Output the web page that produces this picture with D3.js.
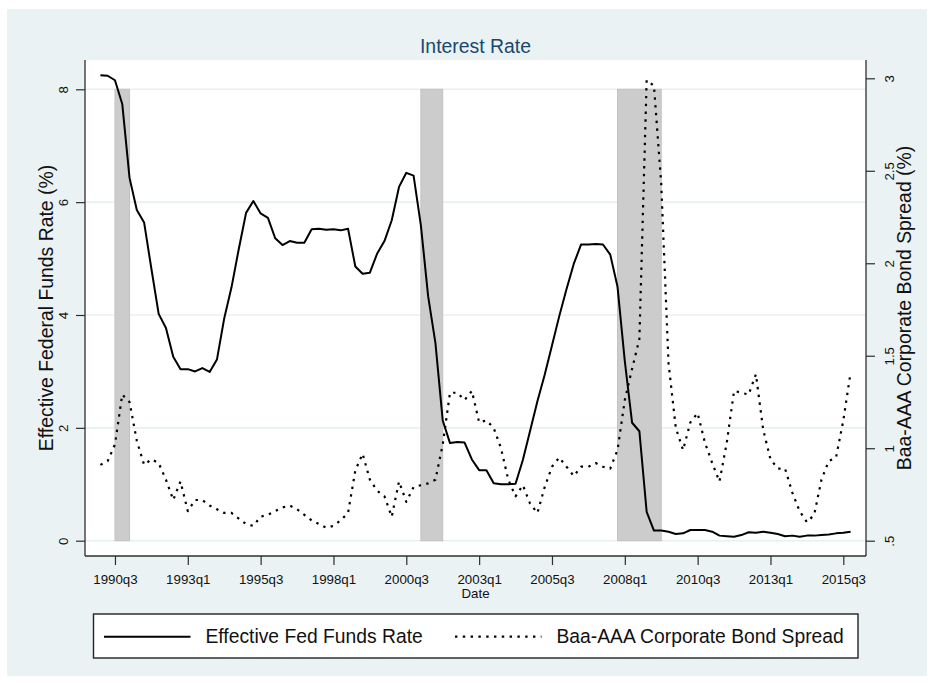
<!DOCTYPE html>
<html>
<head>
<meta charset="utf-8">
<script src="https://cdn.jsdelivr.net/npm/d3@7"></script>
<style>
  html, body { margin: 0; padding: 0; background: #ffffff; }
  svg { display: block; }
  text { font-family: "Liberation Sans", Arial, Helvetica, sans-serif; }
</style>
</head>
<body>
<svg id="chart" width="932" height="683"></svg>
<script>
// ---- data: quarterly observations, 1990q1 .. 2015q4 ----
const startYear = 1990;

// Effective federal funds rate (%), quarterly average
const fedFunds = [
  8.25, 8.24, 8.16, 7.74,   6.43, 5.86, 5.64, 4.82,   4.02, 3.77, 3.26, 3.04,
  3.04, 3.00, 3.06, 2.99,   3.21, 3.94, 4.49, 5.17,   5.81, 6.02, 5.80, 5.72,
  5.36, 5.24, 5.31, 5.28,   5.28, 5.52, 5.53, 5.51,   5.52, 5.50, 5.53, 4.86,
  4.73, 4.75, 5.09, 5.31,   5.68, 6.27, 6.52, 6.47,   5.59, 4.33, 3.50, 2.13,
  1.73, 1.75, 1.74, 1.44,   1.25, 1.25, 1.02, 1.00,   1.00, 1.01, 1.43, 1.95,
  2.47, 2.94, 3.46, 3.98,   4.46, 4.91, 5.25, 5.25,   5.26, 5.25, 5.07, 4.50,
  3.18, 2.09, 1.94, 0.51,   0.18, 0.18, 0.16, 0.12,   0.13, 0.19, 0.19, 0.19,
  0.16, 0.09, 0.08, 0.07,   0.10, 0.15, 0.14, 0.16,   0.14, 0.12, 0.08, 0.09,
  0.07, 0.09, 0.09, 0.10,   0.11, 0.13, 0.14, 0.16
];

// Moody's Baa minus Aaa corporate bond yield (%), quarterly average
const baaAaaSpread = [
  0.91, 0.93, 1.02, 1.29,   1.25, 1.04, 0.91, 0.94,   0.92, 0.83, 0.72, 0.82,
  0.66, 0.72, 0.72, 0.69,   0.67, 0.65, 0.65, 0.62,   0.59, 0.58, 0.63, 0.64,
  0.66, 0.68, 0.69, 0.67,   0.64, 0.61, 0.59, 0.57,   0.58, 0.61, 0.65, 0.88,
  0.97, 0.83, 0.77, 0.74,   0.63, 0.82, 0.71, 0.79,   0.80, 0.81, 0.83, 1.02,
  1.30, 1.30, 1.26, 1.31,   1.14, 1.15, 1.11, 1.00,   0.83, 0.74, 0.80, 0.70,
  0.65, 0.79, 0.90, 0.95,   0.90, 0.85, 0.90, 0.90,   0.92, 0.90, 0.89, 0.99,
  1.26, 1.43, 1.59, 2.99,   2.96, 2.43, 1.46, 1.11,   0.99, 1.14, 1.19, 1.03,
  0.92, 0.82, 1.03, 1.31,   1.30, 1.29, 1.40, 1.10,   0.94, 0.89, 0.89, 0.76,
  0.66, 0.60, 0.64, 0.83,   0.93, 0.95, 1.15, 1.41
];

// NBER recessions (first and last quarter), shaded up to the value below
const recessions = [["1990q3", "1991q1"], ["2001q1", "2001q4"], ["2007q4", "2009q2"]];
const recessionHeight = 8;

const xTickLabels = ["1990q3", "1993q1", "1995q3", "1998q1", "2000q3", "2003q1",
                     "2005q3", "2008q1", "2010q3", "2013q1", "2015q3"];
const leftTicks = [0, 2, 4, 6, 8];
const rightTicks = [0.5, 1, 1.5, 2, 2.5, 3];
const rightTickLabels = [".5", "1", "1.5", "2", "2.5", "3"];

const seriesNames = ["Effective Fed Funds Rate", "Baa-AAA Corporate Bond Spread"];

// ---- helpers ----
const quarters = fedFunds.map((_, i) => `${startYear + Math.floor(i / 4)}q${(i % 4) + 1}`);
const qIndex = s => {
  const [y, q] = s.split("q").map(Number);
  return (y - startYear) * 4 + (q - 1);
};

// ---- layout ----
const W = 932, H = 683;
const plot = { left: 85, right: 866, top: 60, bottom: 556 };
const xPad = 15.4;
const bgColor = "rgb(234,242,243)";
const gridColor = "rgb(232,240,242)";
const axisColor = "#2e2e2e";
const textColor = "#111111";
const titleColor = "#1a476f";
const tickLen = 9;

const svg = d3.select("#chart");

// graph region background
svg.append("rect").attr("x", 7).attr("y", 9).attr("width", 920).attr("height", 667)
  .attr("fill", bgColor);
// plot region
svg.append("rect").attr("x", plot.left).attr("y", plot.top)
  .attr("width", plot.right - plot.left).attr("height", plot.bottom - plot.top)
  .attr("fill", "#ffffff");

// ---- scales ----
const x = d3.scaleLinear().domain([0, fedFunds.length - 1])
  .range([plot.left + xPad, plot.right - xPad]);
const yLeft = d3.scaleLinear().domain([0, 8]).range([540.7, 89.3]);
const yRight = d3.scaleLinear().domain([0.5, 3]).range([540.7, 78.3]);

// ---- gridlines (left axis) ----
svg.append("g").selectAll("line").data(leftTicks).join("line")
  .attr("x1", plot.left).attr("x2", plot.right)
  .attr("y1", d => yLeft(d)).attr("y2", d => yLeft(d))
  .attr("stroke", gridColor).attr("stroke-width", 1.6);

// ---- recession shading ----
svg.append("g").selectAll("rect").data(recessions).join("rect")
  .attr("x", d => x(qIndex(d[0])))
  .attr("width", d => x(qIndex(d[1])) - x(qIndex(d[0])))
  .attr("y", yLeft(recessionHeight))
  .attr("height", yLeft(0) - yLeft(recessionHeight))
  .attr("fill", "#cccccc").attr("stroke", "#c2c2c2").attr("stroke-width", 1);

// ---- lines ----
const fedLine = d3.line().x((d, i) => x(i)).y(d => yLeft(d));
const spreadLine = d3.line().x((d, i) => x(i)).y(d => yRight(d));

svg.append("path").datum(fedFunds).attr("d", fedLine)
  .attr("fill", "none").attr("stroke", "#000").attr("stroke-width", 2)
  .attr("stroke-linejoin", "round");

svg.append("path").datum(baaAaaSpread).attr("d", spreadLine)
  .attr("fill", "none").attr("stroke", "#000").attr("stroke-width", 2.2)
  .attr("stroke-dasharray", "2.4,5.4").attr("stroke-linejoin", "round");

// ---- axes ----
function styleAxis(g) {
  g.select(".domain").remove();
  g.selectAll(".tick line").attr("stroke", axisColor).attr("stroke-width", 1.2);
  g.selectAll(".tick text").attr("fill", textColor).style("font-size", "13.3px");
}

// left
svg.append("g").attr("transform", `translate(${plot.left},0)`)
  .call(d3.axisLeft(yLeft).tickValues(leftTicks).tickFormat(d3.format("d"))
    .tickSize(tickLen).tickSizeOuter(0))
  .call(styleAxis)
  .call(g => g.selectAll(".tick text")
    .attr("x", null).attr("dy", null).attr("text-anchor", "middle")
    .attr("transform", "translate(-17.5,0) rotate(-90)"));

// right
svg.append("g").attr("transform", `translate(${plot.right},0)`)
  .call(d3.axisRight(yRight).tickValues(rightTicks)
    .tickFormat((d, i) => rightTickLabels[i]).tickSize(tickLen).tickSizeOuter(0))
  .call(styleAxis)
  .call(g => g.selectAll(".tick text")
    .attr("x", null).attr("dy", null).attr("text-anchor", "middle")
    .attr("transform", "translate(27.5,0) rotate(-90)"));

// bottom
svg.append("g").attr("transform", `translate(0,${plot.bottom})`)
  .call(d3.axisBottom(x).tickValues(xTickLabels.map(qIndex))
    .tickFormat(i => quarters[i]).tickSize(tickLen).tickSizeOuter(0))
  .call(styleAxis)
  .call(g => g.selectAll(".tick text").attr("y", 27.5).attr("dy", null));

// axis lines
const axisLines = svg.append("g").attr("stroke", axisColor).attr("stroke-width", 1.3);
axisLines.append("line").attr("x1", plot.left).attr("x2", plot.left)
  .attr("y1", plot.top).attr("y2", plot.bottom);
axisLines.append("line").attr("x1", plot.right).attr("x2", plot.right)
  .attr("y1", plot.top).attr("y2", plot.bottom);
axisLines.append("line").attr("x1", plot.left).attr("x2", plot.right)
  .attr("y1", plot.bottom).attr("y2", plot.bottom);

// ---- titles ----
svg.append("text").attr("x", (plot.left + plot.right) / 2).attr("y", 52.5)
  .attr("text-anchor", "middle").attr("fill", titleColor)
  .style("font-size", "19.4px").text("Interest Rate");

svg.append("text").attr("x", (plot.left + plot.right) / 2).attr("y", 598)
  .attr("text-anchor", "middle").attr("fill", textColor)
  .style("font-size", "13.3px").text("Date");

const midY = (plot.top + plot.bottom) / 2;
svg.append("text").attr("transform", `translate(53,${midY}) rotate(-90)`)
  .attr("text-anchor", "middle").attr("fill", textColor)
  .style("font-size", "19.4px").text("Effective Federal Funds Rate (%)");

svg.append("text").attr("transform", `translate(911,${midY}) rotate(-90)`)
  .attr("text-anchor", "middle").attr("fill", textColor)
  .style("font-size", "19.4px").text("Baa-AAA Corporate Bond Spread (%)");

// ---- legend ----
const legend = svg.append("g");
legend.append("rect").attr("x", 93.5).attr("y", 614).attr("width", 764.5).attr("height", 44)
  .attr("fill", "#ffffff").attr("stroke", "#222").attr("stroke-width", 1.4);

const legendItems = [
  { x: 104, name: seriesNames[0], dash: null, w: 2 },
  { x: 455, name: seriesNames[1], dash: "2.4,5.4", w: 2.2 }
];
legendItems.forEach(it => {
  legend.append("line").attr("x1", it.x).attr("x2", it.x + 86.5)
    .attr("y1", 636.7).attr("y2", 636.7)
    .attr("stroke", "#000").attr("stroke-width", it.w)
    .attr("stroke-dasharray", it.dash);
  legend.append("text").attr("x", it.x + 101.5).attr("y", 643.3)
    .attr("fill", textColor).style("font-size", "19.3px").text(it.name);
});
</script>
</body>
</html>
